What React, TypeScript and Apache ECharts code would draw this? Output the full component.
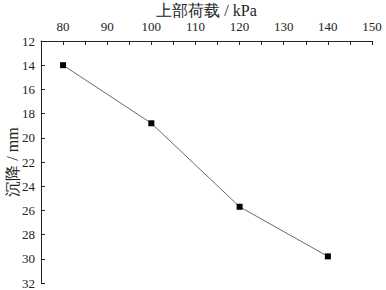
import React, { useEffect, useRef } from "react";
import * as echarts from "echarts";

const loads = [80, 100, 120, 140];
const settlement = [14.0, 18.8, 25.7, 29.8];
const xTitle = "上部荷载 / kPa";
const yTitle = "沉降 / mm";

const FONT = "Liberation Serif";

export default function App() {
  const ref = useRef<HTMLDivElement>(null);
  useEffect(() => {
    if (!ref.current) return;
    const chart = echarts.init(ref.current, undefined, { renderer: "svg" });
    const axisColor = "#222";
    chart.setOption({
      animation: false,
      backgroundColor: "#fff",
      grid: {
        left: 41,
        right: 14,
        top: 41,
        bottom: 7,
        containLabel: false,
        outerBoundsMode: "none",
      },
      xAxis: {
        type: "value",
        position: "top",
        min: 75,
        max: 150,
        interval: 5,
        name: xTitle,
        nameLocation: "middle",
        nameGap: 23,
        nameMoveOverlap: false,
        nameTextStyle: { fontFamily: FONT, fontSize: 16, color: "#222" },
        axisLine: { show: true, lineStyle: { color: axisColor, width: 1 } },
        axisTick: { show: true, inside: true, length: 4, lineStyle: { color: axisColor } },
        axisLabel: {
          fontFamily: FONT,
          fontSize: 13,
          color: "#222",
          margin: 8,
          formatter: (v: number) => (v % 10 === 0 ? String(v) : ""),
        },
        splitLine: { show: false },
      },
      yAxis: {
        type: "value",
        inverse: true,
        min: 12,
        max: 32,
        interval: 2,
        name: yTitle,
        nameLocation: "middle",
        nameGap: 21,
        nameMoveOverlap: false,
        nameRotate: 90,
        nameTextStyle: { fontFamily: FONT, fontSize: 16, color: "#222" },
        axisLine: { show: true, lineStyle: { color: axisColor, width: 1 } },
        axisTick: { show: true, inside: true, length: 4, lineStyle: { color: axisColor } },
        axisLabel: { fontFamily: FONT, fontSize: 13, color: "#222", margin: 6 },
        splitLine: { show: false },
      },
      series: [
        {
          type: "line",
          data: loads.map((x, i) => [x, settlement[i]]),
          symbol: "rect",
          symbolSize: 6,
          lineStyle: { color: "#6a6a6a", width: 1 },
          itemStyle: { color: "#000" },
        },
      ],
    });
    return () => chart.dispose();
  }, []);
  return (
    <div
      ref={ref}
      style={{ position: "absolute", left: 0, top: 0, width: 386, height: 290 }}
    />
  );
}
